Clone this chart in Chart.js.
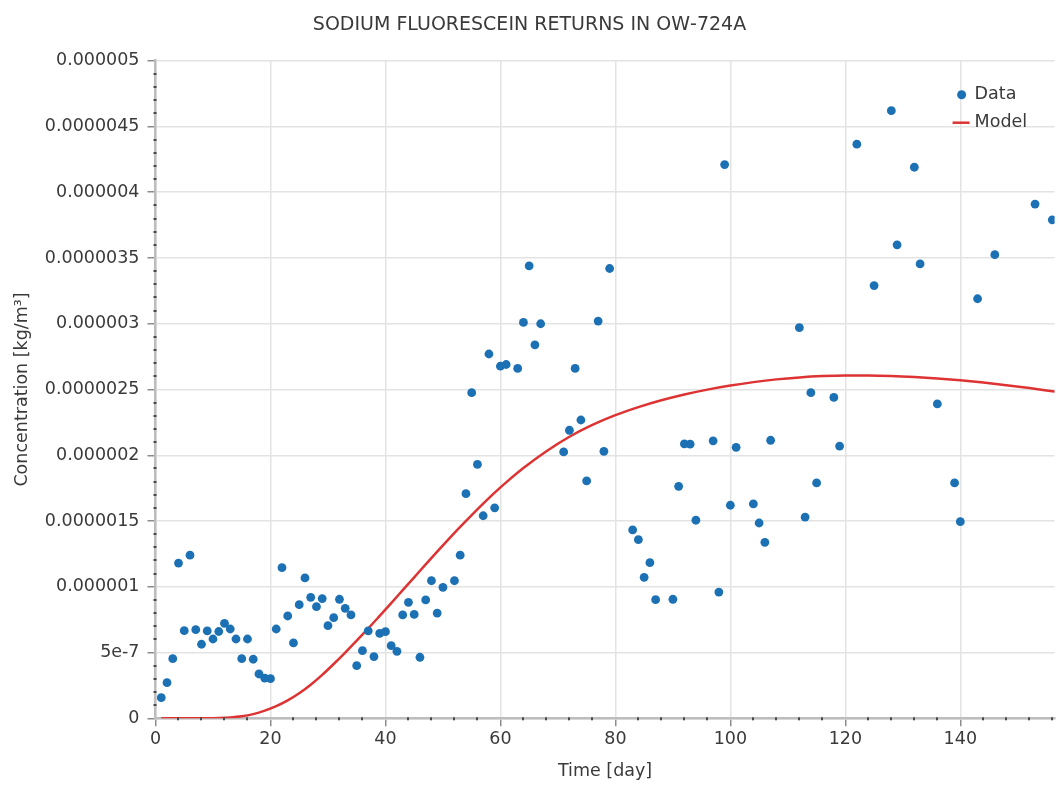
<!DOCTYPE html>
<html>
<head>
<meta charset="utf-8">
<title>Sodium fluorescein returns in OW-724A</title>
<script src="https://cdn.jsdelivr.net/npm/chart.js@4.4.1/dist/chart.umd.min.js"></script>
<style>
  html, body { margin: 0; padding: 0; background: #fff; }
  #chart { display: block; }
</style>
</head>
<body>
<canvas id="chart" width="1059" height="785"></canvas>
<script>
// sampled concentrations (day, value in 1e-6 kg/m³)
const dataDays = [
  1, 2, 3, 4, 5, 6, 7, 8, 9, 10, 11, 12, 13, 14, 15, 16, 17, 18, 19, 20,
  21, 22, 23, 24, 25, 26, 27, 28, 29, 30, 31, 32, 33, 34, 35, 36, 37, 38, 39, 40,
  41, 42, 43, 44, 45, 46, 47, 48, 49, 50, 52, 53, 54, 55, 56, 57, 58, 59, 60, 61,
  63, 64, 65, 66, 67, 71, 72, 73, 74, 75, 77, 78, 79, 83, 84, 85, 86, 87, 90, 91,
  92, 93, 94, 97, 98, 99, 100, 101, 104, 105, 106, 107, 112, 113, 114, 115, 118, 119, 122, 125,
  128, 129, 132, 133, 136, 139, 140, 143, 146, 153, 156
];
const dataConc = [
  0.157, 0.271, 0.453, 1.18, 0.666, 1.24, 0.674, 0.563, 0.664, 0.603, 0.66, 0.722, 0.679, 0.603, 0.453, 0.603, 0.449, 0.337, 0.306, 0.301,
  0.679, 1.145, 0.778, 0.573, 0.864, 1.067, 0.92, 0.849, 0.91, 0.704, 0.765, 0.905, 0.836, 0.786, 0.40, 0.514, 0.664, 0.469, 0.646, 0.659,
  0.552, 0.509, 0.786, 0.882, 0.79, 0.464, 0.90, 1.046, 0.80, 0.996, 1.046, 1.24, 1.708, 2.476, 1.93, 1.54, 2.77, 1.60, 2.677, 2.69,
  2.66, 3.01, 3.44, 2.84, 3.0, 2.025, 2.19, 2.66, 2.268, 1.805, 3.02, 2.03, 3.42, 1.432, 1.358, 1.072, 1.183, 0.902, 0.905, 1.764,
  2.086, 2.084, 1.506, 2.11, 0.96, 4.21, 1.62, 2.06, 1.63, 1.485, 1.338, 2.114, 2.97, 1.53, 2.476, 1.79, 2.44, 2.07, 4.365, 3.29,
  4.62, 3.60, 4.19, 3.455, 2.39, 1.79, 1.495, 3.19, 3.525, 3.91, 3.79
];

// fitted model curve
const modelDays = [
  1, 5, 9, 11, 13, 15, 17, 19, 21, 23, 25, 27, 29, 31, 33, 35, 37, 39, 41, 43,
  45, 47, 49, 51, 53, 55, 57, 59, 61, 64, 68, 72, 76, 80, 84, 88, 92, 96, 100, 104,
  108, 112, 116, 120, 124, 128, 132, 136, 140, 144, 148, 152, 156, 158
];
const modelConc = [
  0, 0, 0.0003, 0.002, 0.006, 0.015, 0.032, 0.058, 0.092, 0.136, 0.19, 0.255, 0.33, 0.413, 0.5, 0.59, 0.683, 0.779, 0.876, 0.974,
  1.072, 1.17, 1.267, 1.362, 1.455, 1.545, 1.632, 1.716, 1.794, 1.903, 2.031, 2.141, 2.231, 2.305, 2.366, 2.418, 2.462, 2.499, 2.53, 2.556,
  2.577, 2.592, 2.602, 2.607, 2.607, 2.603, 2.595, 2.584, 2.57, 2.553, 2.533, 2.511, 2.487, 2.475
];

const xTickValues = [0, 20, 40, 60, 80, 100, 120, 140];
const yTickValues = [0, 5e-7, 1e-6, 1.5e-6, 2e-6, 2.5e-6, 3e-6, 3.5e-6, 4e-6, 4.5e-6, 5e-6];
const yTickLabels = ['0', '5e-7', '0.000001', '0.0000015', '0.000002', '0.0000025',
  '0.000003', '0.0000035', '0.000004', '0.0000045', '0.000005'];

const UNIT = 1e-6;
const FONT = '"DejaVu Sans", Verdana, sans-serif';
const TEXT = '#3a3a3a';

// small dark marks between the labelled ticks
const minorTicks = {
  id: 'minorTicks',
  afterDraw(chart) {
    const { ctx, chartArea, scales: { x, y } } = chart;
    ctx.save();
    ctx.fillStyle = '#4a4a4a';
    for (let d = 4; d < x.max; d += 4) {
      if (d % 20 === 0) continue;
      const px = x.getPixelForValue(d);
      ctx.fillRect(Math.round(px) - 1, chartArea.bottom - 1, 2, 3);
    }
    for (let i = 1; i < 50; i++) {
      if (i % 5 === 0) continue;
      const py = y.getPixelForValue(i * 1e-7);
      ctx.fillRect(chartArea.left - 2, Math.round(py) - 1, 3, 2);
    }
    ctx.restore();
  }
};

// legend box in the upper right of the plot
const insideLegend = {
  id: 'insideLegend',
  afterDraw(chart) {
    const { ctx, chartArea } = chart;
    const [pts, model] = chart.data.datasets;
    const tx = chartArea.right - 80;
    const y1 = chartArea.top + 34;
    const y2 = chartArea.top + 62;
    ctx.save();
    ctx.fillStyle = pts.backgroundColor;
    ctx.beginPath();
    ctx.arc(tx - 13, y1, 4.5, 0, Math.PI * 2);
    ctx.fill();
    ctx.strokeStyle = model.borderColor;
    ctx.lineWidth = 2.5;
    ctx.beginPath();
    ctx.moveTo(tx - 22, y2);
    ctx.lineTo(tx - 5, y2);
    ctx.stroke();
    ctx.fillStyle = TEXT;
    ctx.font = '17.5px ' + FONT;
    ctx.textBaseline = 'middle';
    ctx.fillText(pts.label, tx, y1);
    ctx.fillText(model.label, tx, y2);
    ctx.restore();
  }
};

new Chart(document.getElementById('chart'), {
  type: 'scatter',
  data: {
    datasets: [{
      label: 'Data',
      data: dataDays.map((d, i) => ({ x: d, y: dataConc[i] * UNIT })),
      backgroundColor: '#1c71b4',
      borderWidth: 0,
      pointRadius: 4.4,
      order: 1
    }, {
      label: 'Model',
      data: modelDays.map((d, i) => ({ x: d, y: modelConc[i] * UNIT })),
      showLine: true,
      borderColor: '#dd3333',
      borderWidth: 2.5,
      pointRadius: 0,
      cubicInterpolationMode: 'monotone',
      order: 2
    }]
  },
  options: {
    responsive: false,
    animation: false,
    events: [],
    layout: { padding: 0 },
    plugins: {
      legend: { display: false },
      tooltip: { enabled: false },
      title: {
        display: true,
        text: 'SODIUM FLUORESCEIN RETURNS IN OW\u2010724A',
        color: TEXT,
        font: { family: FONT, size: 19, weight: 'normal', lineHeight: 1.2 },
        padding: { top: 13.6, bottom: 24.3 }
      }
    },
    scales: {
      x: {
        type: 'linear',
        min: 0,
        max: 156.4,
        afterBuildTicks: s => { s.ticks = xTickValues.map(v => ({ value: v })); },
        afterFit: s => { s.height = 66.7; },
        ticks: {
          color: TEXT,
          font: { family: FONT, size: 17.5 },
          padding: 3,
          maxRotation: 0,
          autoSkip: false,
          includeBounds: false
        },
        grid: { color: '#e3e3e3', lineWidth: 1.5, tickColor: '#8c8c8c', tickLength: 8 },
        border: { color: '#bdbdbd', width: 2.5 },
        title: {
          display: true,
          text: 'Time [day]',
          color: TEXT,
          font: { family: FONT, size: 17.5, lineHeight: 1.2 },
          padding: { top: 0, bottom: 3 }
        }
      },
      y: {
        type: 'linear',
        min: 0,
        max: 5e-6,
        afterBuildTicks: s => { s.ticks = yTickValues.map(v => ({ value: v })); },
        afterFit: s => { s.width = 155.5; },
        ticks: {
          color: TEXT,
          font: { family: FONT, size: 17.5 },
          padding: 8,
          autoSkip: false,
          callback: (v, i) => yTickLabels[i]
        },
        grid: { color: '#e3e3e3', lineWidth: 1.5, tickColor: '#8c8c8c', tickLength: 8 },
        border: { color: '#bdbdbd', width: 2.5 },
        title: {
          display: true,
          text: 'Concentration [kg/m³]',
          color: TEXT,
          font: { family: FONT, size: 17.5, lineHeight: 1.2 },
          padding: { top: 12, bottom: 0 }
        }
      }
    }
  },
  plugins: [minorTicks, insideLegend]
});
</script>
</body>
</html>
